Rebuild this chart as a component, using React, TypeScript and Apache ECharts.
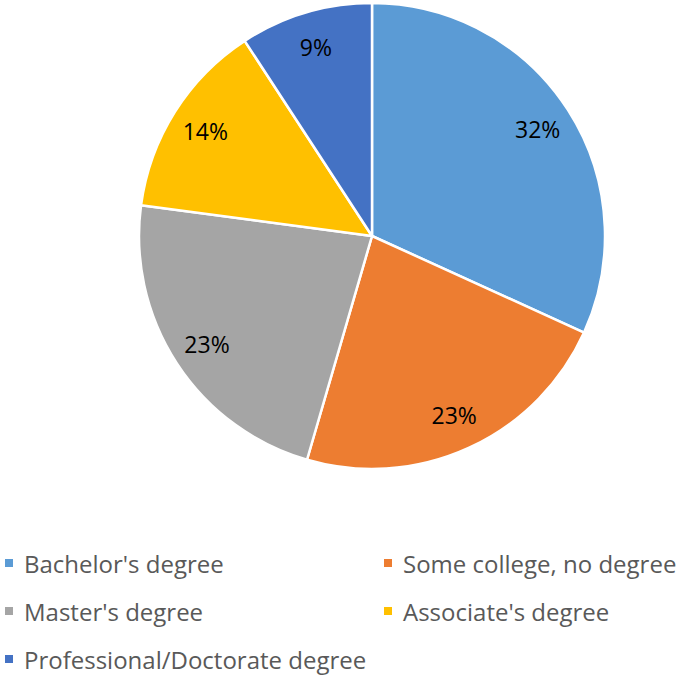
import React, { useEffect, useRef } from "react";
import * as echarts from "echarts";

const categories = [
  "Bachelor's degree",
  "Some college, no degree",
  "Master's degree",
  "Associate's degree",
  "Professional/Doctorate degree",
];
const values = [31.8, 22.7, 22.6, 13.7, 9.2];
const colors = ["#5B9BD5", "#ED7D31", "#A5A5A5", "#FFC000", "#4472C4"];

const FONT = "'Open Sans', Lato, sans-serif";

export default function App() {
  const ref = useRef<HTMLDivElement>(null);
  useEffect(() => {
    document.body.style.margin = "0";
    const chart = echarts.init(ref.current!, undefined, { renderer: "svg" });
    const data = categories.map((name, i) => ({
      name,
      value: values[i],
      itemStyle: { color: colors[i] },
    }));
    const legendCommon = {
      orient: "vertical" as const,
      icon: "rect",
      itemWidth: 10,
      itemHeight: 10,
      itemGap: 24,
      padding: 0,
      height: 200,
      textStyle: {
        color: "#595959",
        fontSize: 24,
        fontFamily: FONT,
        lineHeight: 24,
        padding: [0, 0, 0, 5],
      },
      selectedMode: false,
    };
    chart.setOption({
      animation: false,
      backgroundColor: "#ffffff",
      legend: [
        { ...legendCommon, left: 3, top: 551, data: [categories[0], categories[2], categories[4]] },
        { ...legendCommon, left: 382, top: 551, data: [categories[1], categories[3]] },
      ],
      series: [
        {
          type: "pie",
          center: [372, 236],
          radius: [0, 233],
          startAngle: 90,
          clockwise: true,
          data,
          label: { show: false },
          labelLine: { show: false },
          itemStyle: { borderColor: "#ffffff", borderWidth: 2.5 },
          emphasis: { disabled: true },
        },
        {
          type: "pie",
          center: [372, 236],
          radius: [154, 234],
          startAngle: 90,
          clockwise: true,
          silent: true,
          data: categories.map((name, i) => ({ name, value: values[i] })),
          itemStyle: { color: "rgba(0,0,0,0)" },
          label: {
            show: true,
            position: "inside",
            formatter: (p: any) => Math.round(p.percent) + "%",
            color: "#000000",
            fontSize: 23,
            fontFamily: FONT,
          },
          labelLine: { show: false },
          emphasis: { disabled: true },
        },
      ],
    });
    return () => chart.dispose();
  }, []);
  return (
    <div
      ref={ref}
      style={{ width: 683, height: 675, position: "absolute", left: 0, top: 0 }}
    />
  );
}
